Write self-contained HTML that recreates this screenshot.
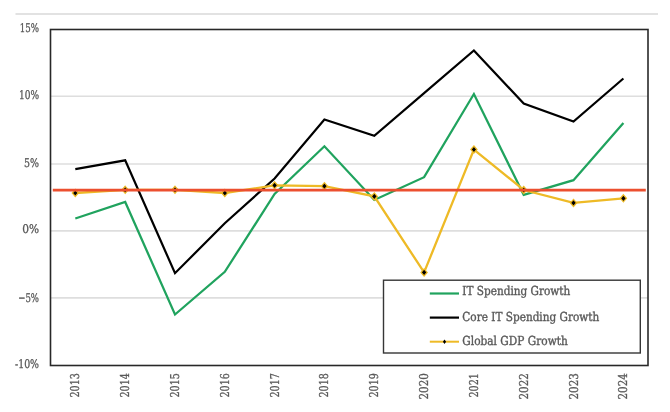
<!DOCTYPE html>
<html><head><meta charset="utf-8"><title>IT Spending Growth vs Global GDP Growth</title>
<style>
html,body{margin:0;padding:0;background:#fff;}
body{width:670px;height:412px;overflow:hidden;}
svg{display:block;filter:blur(0.45px);text-rendering:geometricPrecision;}
.ax{font-family:"DejaVu Serif Condensed","DejaVu Serif",serif;font-size:12px;fill:#595959;stroke:#595959;stroke-width:0.3px;}
.yr{font-size:12.2px;}
.lg{font-family:"DejaVu Serif Condensed","DejaVu Serif",serif;font-size:12.4px;fill:#595959;stroke:#595959;stroke-width:0.35px;}
</style></head>
<body>
<svg width="670" height="412" viewBox="0 0 670 412">
<line x1="15.5" y1="14" x2="658" y2="14" stroke="#e2e2e2" stroke-width="2"/>
<line x1="50.5" y1="96.2" x2="648.0" y2="96.2" stroke="#dedede" stroke-width="1.6"/>
<line x1="50.5" y1="164.0" x2="648.0" y2="164.0" stroke="#dedede" stroke-width="1.6"/>
<line x1="50.5" y1="230.9" x2="648.0" y2="230.9" stroke="#dedede" stroke-width="1.6"/>
<line x1="50.5" y1="297.9" x2="648.0" y2="297.9" stroke="#dedede" stroke-width="1.6"/>
<text x="39.0" y="31.9" text-anchor="end" class="ax" textLength="19.3" lengthAdjust="spacingAndGlyphs">15%</text>
<text x="39.0" y="98.5" text-anchor="end" class="ax" textLength="20.1" lengthAdjust="spacingAndGlyphs">10%</text>
<text x="39.0" y="166.5" text-anchor="end" class="ax" textLength="15.0" lengthAdjust="spacingAndGlyphs">5%</text>
<text x="39.0" y="233.4" text-anchor="end" class="ax" textLength="16.8" lengthAdjust="spacingAndGlyphs">0%</text>
<text x="39.0" y="301.5" text-anchor="end" class="ax" textLength="20.8" lengthAdjust="spacingAndGlyphs">−5%</text>
<text x="39.0" y="367.9" text-anchor="end" class="ax" textLength="24.0" lengthAdjust="spacingAndGlyphs">-10%</text>
<text transform="translate(79.3,373.2) rotate(-90)" text-anchor="end" class="ax yr" textLength="24.3" lengthAdjust="spacingAndGlyphs">2013</text>
<text transform="translate(129.2,373.2) rotate(-90)" text-anchor="end" class="ax yr" textLength="24.3" lengthAdjust="spacingAndGlyphs">2014</text>
<text transform="translate(179.0,373.2) rotate(-90)" text-anchor="end" class="ax yr" textLength="24.3" lengthAdjust="spacingAndGlyphs">2015</text>
<text transform="translate(228.8,373.2) rotate(-90)" text-anchor="end" class="ax yr" textLength="24.3" lengthAdjust="spacingAndGlyphs">2016</text>
<text transform="translate(278.6,373.2) rotate(-90)" text-anchor="end" class="ax yr" textLength="24.3" lengthAdjust="spacingAndGlyphs">2017</text>
<text transform="translate(328.4,373.2) rotate(-90)" text-anchor="end" class="ax yr" textLength="24.3" lengthAdjust="spacingAndGlyphs">2018</text>
<text transform="translate(378.3,373.2) rotate(-90)" text-anchor="end" class="ax yr" textLength="24.3" lengthAdjust="spacingAndGlyphs">2019</text>
<text transform="translate(428.1,373.2) rotate(-90)" text-anchor="end" class="ax yr" textLength="26.3" lengthAdjust="spacingAndGlyphs">2020</text>
<text transform="translate(477.9,373.2) rotate(-90)" text-anchor="end" class="ax yr" textLength="24.3" lengthAdjust="spacingAndGlyphs">2021</text>
<text transform="translate(527.7,373.2) rotate(-90)" text-anchor="end" class="ax yr" textLength="26.3" lengthAdjust="spacingAndGlyphs">2022</text>
<text transform="translate(577.5,373.2) rotate(-90)" text-anchor="end" class="ax yr" textLength="26.3" lengthAdjust="spacingAndGlyphs">2023</text>
<text transform="translate(627.4,373.2) rotate(-90)" text-anchor="end" class="ax yr" textLength="26.3" lengthAdjust="spacingAndGlyphs">2024</text>
<polyline points="75.3,218.5 125.2,202.0 175.0,314.5 224.8,271.8 274.6,194.0 324.4,146.3 374.3,200.0 424.1,177.2 473.9,94.0 523.7,194.8 573.5,180.2 623.4,123.0" fill="none" stroke="#20a35e" stroke-width="2.25" stroke-linejoin="miter"/>
<polyline points="75.3,169.1 125.2,160.3 175.0,273.2 224.8,223.3 274.6,178.5 324.4,119.5 374.3,135.8 424.1,93.1 473.9,50.4 523.7,103.6 573.5,121.5 623.4,78.5" fill="none" stroke="#000000" stroke-width="2.2" stroke-linejoin="miter"/>
<polyline points="75.3,193.0 125.2,189.8 175.0,189.8 224.8,193.0 274.6,185.3 324.4,186.2 374.3,196.4 424.1,272.4 473.9,149.5 523.7,190.0 573.5,202.9 623.4,198.3" fill="none" stroke="#eeba26" stroke-width="2.3" stroke-linejoin="miter"/>
<polygon points="75.3,189.5 78.3,193.0 75.3,196.5 72.3,193.0" fill="#000" stroke="#eeba26" stroke-width="1.3"/>
<polygon points="125.2,186.3 128.2,189.8 125.2,193.3 122.2,189.8" fill="#000" stroke="#eeba26" stroke-width="1.3"/>
<polygon points="175.0,186.3 178.0,189.8 175.0,193.3 172.0,189.8" fill="#000" stroke="#eeba26" stroke-width="1.3"/>
<polygon points="224.8,189.5 227.8,193.0 224.8,196.5 221.8,193.0" fill="#000" stroke="#eeba26" stroke-width="1.3"/>
<polygon points="274.6,181.8 277.6,185.3 274.6,188.8 271.6,185.3" fill="#000" stroke="#eeba26" stroke-width="1.3"/>
<polygon points="324.4,182.7 327.4,186.2 324.4,189.7 321.4,186.2" fill="#000" stroke="#eeba26" stroke-width="1.3"/>
<polygon points="374.3,192.9 377.3,196.4 374.3,199.9 371.3,196.4" fill="#000" stroke="#eeba26" stroke-width="1.3"/>
<polygon points="424.1,268.9 427.1,272.4 424.1,275.9 421.1,272.4" fill="#000" stroke="#eeba26" stroke-width="1.3"/>
<polygon points="473.9,146.0 476.9,149.5 473.9,153.0 470.9,149.5" fill="#000" stroke="#eeba26" stroke-width="1.3"/>
<polygon points="523.7,186.5 526.7,190.0 523.7,193.5 520.7,190.0" fill="#000" stroke="#eeba26" stroke-width="1.3"/>
<polygon points="573.5,199.4 576.5,202.9 573.5,206.4 570.5,202.9" fill="#000" stroke="#eeba26" stroke-width="1.3"/>
<polygon points="623.4,194.8 626.4,198.3 623.4,201.8 620.4,198.3" fill="#000" stroke="#eeba26" stroke-width="1.3"/>
<line x1="52.8" y1="190.2" x2="645.8" y2="190.2" stroke="#ec4f2f" stroke-width="2.7"/>
<rect x="50.5" y="29.5" width="597.5" height="336.0" fill="none" stroke="#282828" stroke-width="1.6"/>
<rect x="383.5" y="280.2" width="256.79999999999995" height="72.80000000000001" fill="#fff" stroke="#363636" stroke-width="1.4"/>
<line x1="429.8" y1="293.5" x2="459" y2="293.5" stroke="#20a35e" stroke-width="2.2"/>
<text x="462.3" y="294.9" class="lg" textLength="108.0" lengthAdjust="spacingAndGlyphs">IT Spending Growth</text>
<line x1="429.8" y1="317.6" x2="459" y2="317.6" stroke="#000000" stroke-width="2.2"/>
<text x="462.3" y="321.4" class="lg" textLength="137.0" lengthAdjust="spacingAndGlyphs">Core IT Spending Growth</text>
<line x1="429.8" y1="341.7" x2="459" y2="341.7" stroke="#eeba26" stroke-width="2.0"/>
<polygon points="444.5,339.5 446.1,341.7 444.5,343.9 442.9,341.7" fill="#000"/>
<text x="462.3" y="345.0" class="lg" textLength="105.5" lengthAdjust="spacingAndGlyphs">Global GDP Growth</text>
</svg>
</body></html>
